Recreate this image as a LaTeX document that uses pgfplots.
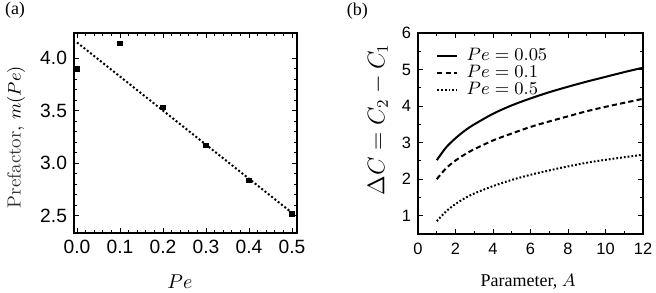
\documentclass[border=0pt]{standalone}
\usepackage{fontspec}
\usepackage{pgfplots}
\pgfplotsset{compat=1.18}
\newfontfamily\arial{Liberation Sans}
\newfontfamily\timesf{Liberation Serif}

\pgfplotstableread{
x y
0.0 3.90
0.1 4.14
0.2 3.53
0.3 3.17
0.4 2.84
0.5 2.52
}\prefdata

\pgfplotstableread{
x y
0.0 4.15
0.5 2.53
}\fitdata

\pgfplotstableread{
A s d t
1 2.52 2.00 0.85
1.5 2.87 2.30 1.12
2 3.12 2.51 1.32
2.5 3.33 2.68 1.48
3 3.50 2.82 1.61
4 3.79 3.06 1.81
5 4.02 3.25 1.98
6 4.21 3.43 2.12
7 4.38 3.58 2.24
8 4.53 3.72 2.35
9 4.67 3.86 2.45
10 4.80 3.98 2.53
11 4.93 4.09 2.60
12 5.05 4.20 2.67
}\curvedata

\pgfplotsset{
  frame/.style={
    scale only axis,
    axis line style={line width=1.1pt},
    tick align=inside,
    major tick length=2.6pt,
    minor tick length=1.4pt,
    every tick/.style={black, line width=0.5pt},
    /pgf/number format/assume math mode=true,
  }
}

\begin{document}
\begin{tikzpicture}
\useasboundingbox (0,0) rectangle (328pt,146.5pt);

\begin{axis}[frame,
  at={(37pt,30pt)}, anchor=south west,
  width=111.5pt, height=100pt,
  xmin=-0.007, xmax=0.5116, ymin=2.338, ymax=4.24,
  xtick={0,0.1,0.2,0.3,0.4,0.5},
  ytick={2.5,3.0,3.5,4.0},
  minor x tick num=4, minor y tick num=4,
  ticklabel style={font=\arial\fontsize{9.6}{10}\selectfont},
  xticklabel style={/pgf/number format/.cd, fixed, fixed zerofill, precision=1},
  yticklabel style={/pgf/number format/.cd, fixed, fixed zerofill, precision=1},
  xlabel={$Pe$},
  xlabel style={at={(axis description cs:0.475,-0.245)}, anchor=center, font=\fontsize{10}{12}\selectfont},
  ylabel={\textcolor{black!80}{Prefactor}, $m(Pe)$},
  ylabel style={at={(axis description cs:-0.26,0.48)}, anchor=center, font=\fontsize{9.5}{12}\selectfont},
]
\addplot[black, line width=1pt, dash pattern=on 1pt off 1.1pt] table[x=x,y=y]{\fitdata};
\addplot[only marks, mark=square*, mark size=1.1pt, black] table[x=x,y=y]{\prefdata};
\end{axis}

\begin{axis}[frame,
  at={(209pt,29.5pt)}, anchor=south west,
  width=112.5pt, height=100.5pt,
  xmin=0, xmax=12, ymin=0.5, ymax=6,
  xtick={0,2,4,6,8,10,12},
  ytick={1,2,3,4,5,6},
  minor x tick num=1, minor y tick num=1,
  ticklabel style={font=\arial\fontsize{8.2}{9}\selectfont},
  xticklabel style={yshift=-1pt},
  xlabel={\timesf Parameter, $A$},
  xlabel style={at={(axis description cs:0.49,-0.239)}, anchor=center, font=\fontsize{9}{11}\selectfont},
  ylabel={$\Delta C = C_2 - C_1$},
  ylabel style={at={(axis description cs:-0.178,0.57)}, anchor=center, font=\fontsize{11.5}{13}\selectfont},
  legend style={draw=none, fill=none, at={(0.0787,0.929)}, anchor=north west,
    font=\fontsize{9.3}{10}\selectfont, row sep=0pt, column sep=0pt, inner sep=0pt,
    nodes={inner sep=0pt, text height=6.3pt, text depth=2.2pt}},
  legend cell align=left,
  legend image code/.code={\draw[#1] (0pt,0pt) -- (10pt,0pt); \path (14.3pt,0pt);},
]
\addplot[black, line width=1pt, smooth] table[x=A,y=s]{\curvedata};
\addlegendentry{$Pe = 0.05$}
\addplot[black, line width=1pt, smooth, dash pattern=on 2.6pt off 1.6pt] table[x=A,y=d]{\curvedata};
\addlegendentry{$Pe = 0.1$}
\addplot[black, line width=1pt, smooth, dash pattern=on 0.9pt off 1pt] table[x=A,y=t]{\curvedata};
\addlegendentry{$Pe = 0.5$}
\end{axis}

\node[font=\timesf\fontsize{9}{10}\selectfont] at (7.5pt,141.2pt) {(a)};
\node[font=\timesf\fontsize{9}{10}\selectfont] at (178.7pt,141pt) {(b)};
\end{tikzpicture}
\end{document}
